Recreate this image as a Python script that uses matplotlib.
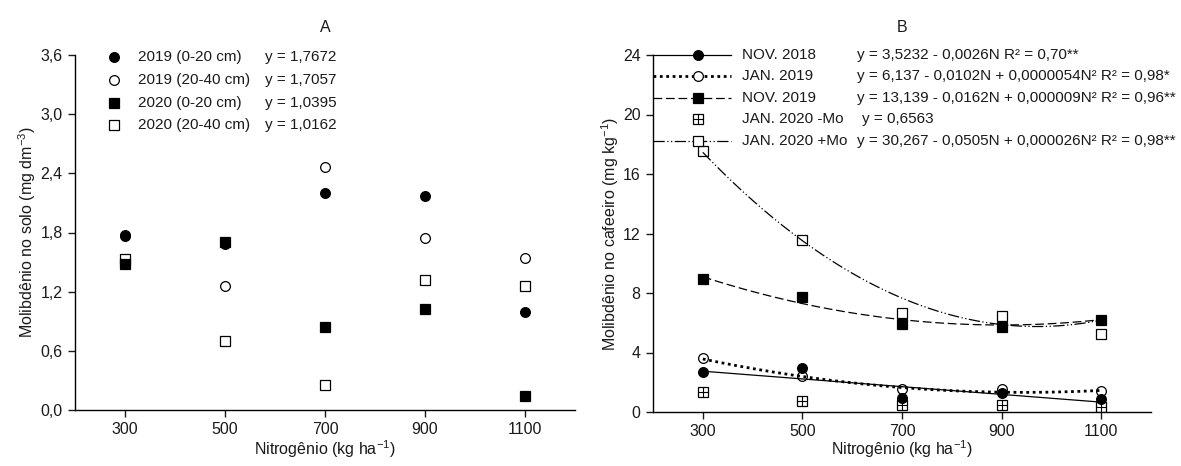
import numpy as np
import matplotlib
matplotlib.use("Agg")
import matplotlib.pyplot as plt
from matplotlib.ticker import FuncFormatter

plt.rcParams['font.family'] = ['Liberation Sans', 'DejaVu Sans']
plt.rcParams['mathtext.fontset'] = 'custom'
plt.rcParams['mathtext.rm'] = 'Liberation Sans'
plt.rcParams['mathtext.it'] = 'Liberation Sans:italic'
plt.rcParams['mathtext.bf'] = 'Liberation Sans:bold'

# doses de nitrogênio
nitrogen = [300, 500, 700, 900, 1100]

# painel A - Mo no solo
solo_2019_0_20 = [1.76, 1.68, 2.20, 2.17, 0.99]
solo_2019_20_40 = [1.77, 1.26, 2.46, 1.74, 1.54]
solo_2020_0_20 = [1.48, 1.70, 0.84, 1.02, 0.14]
solo_2020_20_40 = [1.53, 0.70, 0.25, 1.32, 1.26]
eq_solo = ["y = 1,7672", "y = 1,7057", "y = 1,0395", "y = 1,0162"]
lab_solo = ["2019 (0-20 cm)", "2019 (20-40 cm)", "2020 (0-20 cm)", "2020 (20-40 cm)"]

# painel B - Mo no cafeeiro
nov_2018 = [2.66, 2.94, 0.97, 1.27, 0.89]
jan_2019 = [3.60, 2.42, 1.53, 1.55, 1.42]
nov_2019 = [8.93, 7.72, 5.93, 5.70, 6.20]
jan_2020_sem = [1.34, 0.72, 0.50, 0.48, 0.35]
jan_2020_com = [17.52, 11.57, 6.64, 6.47, 5.26]
lab_caf = ["NOV. 2018", "JAN. 2019", "NOV. 2019", "JAN. 2020 -Mo", "JAN. 2020 +Mo"]
eq_caf = ["y = 3,5232 - 0,0026N R² = 0,70**",
          "y = 6,137 - 0,0102N + 0,0000054N² R² = 0,98*",
          "y = 13,139 - 0,0162N + 0,000009N² R² = 0,96**",
          "y = 0,6563",
          "y = 30,267 - 0,0505N + 0,000026N² R² = 0,98**"]
# coeficientes das regressões
coef_caf = [[3.5232, -0.0026, 0.0],
            [6.137, -0.0102, 0.0000054],
            [13.139, -0.0162, 0.000009],
            None,
            [30.267, -0.0505, 0.000026]]

txt = '#1a1a1a'
fs = 11.5   # eixos
fl = 11     # legendas
W, H = 1181, 466
fig = plt.figure(figsize=(W / 100, H / 100), dpi=100)
axA = fig.add_axes([75 / W, 1 - 410 / H, 500 / W, 355 / H])
axB = fig.add_axes([653 / W, 1 - 412 / H, 498 / W, 357 / H])

def estilo(ax):
    for s in ['top', 'right']:
        ax.spines[s].set_visible(False)
    for s in ['left', 'bottom']:
        ax.spines[s].set_linewidth(1.0)
    ax.tick_params(direction='out', length=5, width=1, labelsize=fs, colors=txt, pad=4)
    ax.set_xlim(200, 1200)
    ax.set_xticks(nitrogen)
    ax.set_xlabel(r"Nitrogênio (kg ha$^{-1}$)", fontsize=fs, color=txt)
    ax.xaxis.label.set_va('center')

# ---- A ----
estilo(axA)
ms = 7
estilos_A = [dict(marker='o', mfc='black', mec='black'),
             dict(marker='o', mfc='white', mec='black'),
             dict(marker='s', mfc='black', mec='black'),
             dict(marker='s', mfc='white', mec='black')]
series_A = [solo_2019_20_40, solo_2020_20_40, solo_2020_0_20, solo_2019_0_20]
ordem = [1, 3, 2, 0]
for k, i in enumerate(ordem):
    axA.plot(nitrogen, series_A[k], ls='none', ms=ms, mew=0.9, **estilos_A[i])
axA.set_ylim(0, 3.6)
axA.set_yticks(np.arange(0, 3.61, 0.6))
axA.yaxis.set_major_formatter(FuncFormatter(lambda v, p: f"{v:.1f}".replace('.', ',')))
axA.set_ylabel(r"Molibdênio no solo (mg dm$^{-3}$)", fontsize=fs, color=txt)
axA.yaxis.label.set_va('center')
axA.yaxis.set_label_coords(-0.096, 0.5)
axA.xaxis.set_label_coords(0.5, -0.11)
fig.text(axA.get_position().x0 + axA.get_position().width / 2, 1 - 27 / H, "A",
         fontsize=fs, color=txt, ha='center', va='center')
for i in range(4):
    yy = 0.995 - i * 0.0645
    axA.plot([0.077], [yy], transform=axA.transAxes, ls='none', ms=ms, mew=0.9,
             clip_on=False, **estilos_A[i])
    axA.text(0.125, yy, lab_solo[i], transform=axA.transAxes, fontsize=fl,
             color=txt, va='center')
    axA.text(0.38, yy, eq_solo[i], transform=axA.transAxes, fontsize=fl,
             color=txt, va='center')

# ---- B ----
estilo(axB)
series_B = [nov_2018, jan_2019, nov_2019, jan_2020_sem, jan_2020_com]
mk_B = [dict(marker='o', mfc='black', mec='black'),
        dict(marker='o', mfc='none', mec='black'),
        dict(marker='s', mfc='black', mec='black'),
        dict(marker='s', mfc='white', mec='black'),
        dict(marker='s', mfc='none', mec='black')]
ls_B = [dict(ls='-', lw=0.9),
        dict(ls=(0, (1, 1.3)), lw=2.0),
        dict(ls=(0, (7, 3)), lw=0.9),
        None,
        dict(ls=(0, (9, 2, 1, 2, 1, 2)), lw=0.9)]
xs = np.linspace(300, 1100, 200)
for i in range(5):
    if coef_caf[i] is not None:
        a, b, c = coef_caf[i]
        axB.plot(xs, a + b * xs + c * xs ** 2, color='black', **ls_B[i])

def marca(ax, x, y, i, **kw):
    m = ms if i != 3 else 6.5
    ax.plot(x, y, ls='none', ms=m, mew=0.9, **mk_B[i], **kw)
    if i == 3:
        ax.plot(x, y, ls='none', marker='+', ms=m, mew=0.8, color='black', **kw)

for i in [4, 3, 2, 1, 0]:
    marca(axB, nitrogen, series_B[i], i)
axB.set_ylim(0, 24)
axB.set_yticks(np.arange(0, 24.1, 4))
axB.set_ylabel(r"Molibdênio no cafeeiro (mg kg$^{-1}$)", fontsize=fs, color=txt)
axB.yaxis.label.set_va('center')
axB.yaxis.set_label_coords(-0.087, 0.5)
axB.xaxis.set_label_coords(0.5, -0.104)
fig.text(axB.get_position().x0 + axB.get_position().width / 2, 1 - 27 / H, "B",
         fontsize=fs, color=txt, ha='center', va='center')
for i in range(5):
    yy = 1.0 - i * 0.06
    if ls_B[i] is not None:
        axB.plot([0.0, 0.157], [yy, yy], transform=axB.transAxes, color='black',
                 clip_on=False, **ls_B[i])
    if mk_B[i]['mfc'] == 'none':
        mk_B[i]['mfc'] = 'white'
    marca(axB, [0.09], [yy], i, transform=axB.transAxes, clip_on=False)
    axB.text(0.178, yy, lab_caf[i], transform=axB.transAxes, fontsize=fl,
             color=txt, va='center')
    axB.text(0.41 if i != 3 else 0.42, yy, eq_caf[i], transform=axB.transAxes,
             fontsize=fl, color=txt, va='center')

fig.savefig("out.png", dpi=100)
